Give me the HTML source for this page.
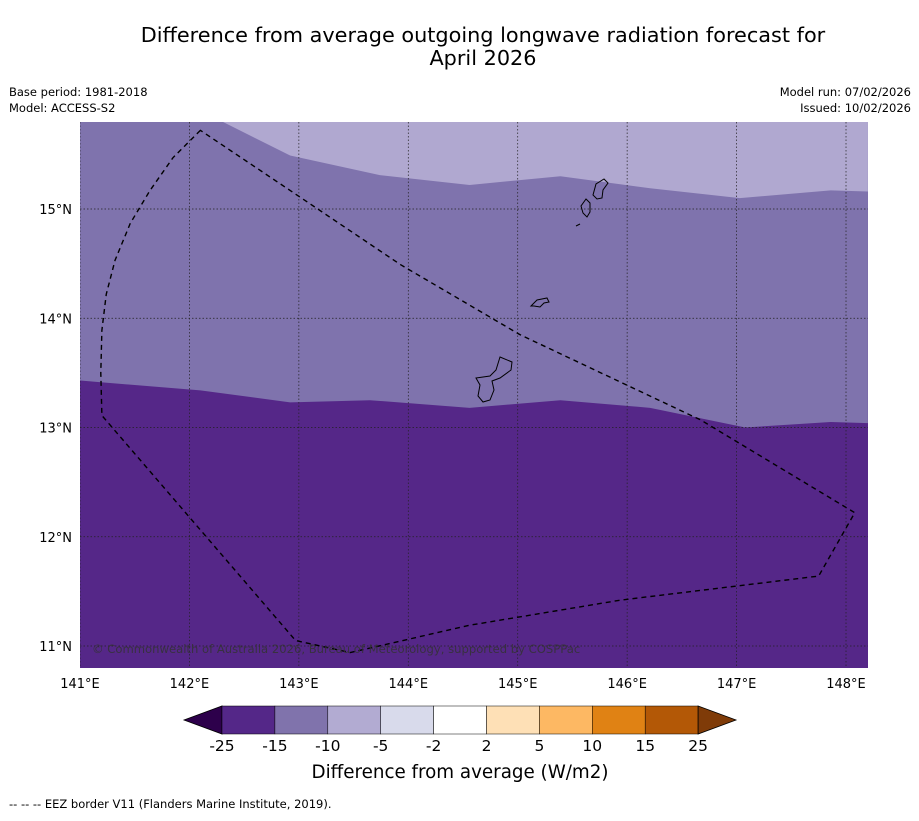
<!DOCTYPE html>
<html><head><meta charset="utf-8"><style>
body{margin:0;background:#fff;font-family:"Liberation Sans","DejaVu Sans",sans-serif;}
svg text{font-family:"DejaVu Sans","Liberation Sans",sans-serif;}
svg text.ls{font-family:"Liberation Sans","DejaVu Sans",sans-serif;}
</style></head><body>
<svg id="c" width="919" height="816" xmlns="http://www.w3.org/2000/svg">
<rect width="919" height="816" fill="#fff"/>
<text x="483" y="42" font-size="20.8" text-anchor="middle">Difference from average outgoing longwave radiation forecast for</text>
<text x="483" y="65" font-size="20.8" text-anchor="middle">April 2026</text>
<text x="9" y="96" font-size="11.5">Base period: 1981-2018</text>
<text x="9" y="112" font-size="11.5">Model: ACCESS-S2</text>
<text x="911" y="96" font-size="11.5" text-anchor="end">Model run: 07/02/2026</text>
<text x="911" y="112" font-size="11.5" text-anchor="end">Issued: 10/02/2026</text>
<defs><clipPath id="mc"><rect x="80" y="122" width="788" height="546"/></clipPath></defs>
<g id="map" clip-path="url(#mc)">
<rect x="80" y="122" width="788" height="546" fill="#552788"/>
<path id="midband" fill="#7f73ad"/>
<path id="lightband" fill="#b0a8d0"/>
<g id="grid"></g>
<g fill="none" stroke="#000" stroke-width="1">
<path d="M500,357 L512,362 L511,370 L500,378 L492,381 L494,390 L490,400 L483,402 L478,396 L480,385 L476,378 L490,376 L496,370 Z"/>
<path d="M531,306 L537,300 L547,298 L549,302 L544,303 L540,307 L534,306 Z"/>
<path d="M586,199 L590,203 L590,212 L587,217 L583,213 L581,206 Z"/>
<path d="M604,179 L608,183 L603,190 L602,198 L597,199 L593,195 L596,184 Z"/>
<path d="M576,226 L580,224"/>
</g>
<path id="eez" fill="none" stroke="#000" stroke-width="1.4" stroke-dasharray="5,4"/>
<text x="92" y="653" font-size="11.6" fill="#333" opacity="0.85">© Commonwealth of Australia 2026, Bureau of Meteorology, supported by COSPPac</text>
</g>
<g id="axes"></g>
<g id="cbar"></g>
<text x="460" y="778" font-size="18.3" text-anchor="middle">Difference from average (W/m2)</text>
<text x="9" y="808" font-size="11.5">--  --  -- EEZ border V11 (Flanders Marine Institute, 2019).</text>
</svg>
<script>
const lonTicks=[141,142,143,144,145,146,147,148];
const latTicks=[11,12,13,14,15];
const upperLon=[142.30,142.92,143.74,144.56,145.39,146.21,147.03,147.86,148.20];
const upperLat=[15.80,15.49,15.31,15.22,15.30,15.19,15.10,15.17,15.16];
const lowerLon=[141.0,142.10,142.92,143.65,144.56,145.39,146.21,147.08,147.86,148.20];
const lowerLat=[13.43,13.34,13.23,13.25,13.18,13.25,13.18,13.00,13.05,13.04];
const eezLon=[142.10,141.85,141.64,141.46,141.32,141.24,141.20,141.19,141.20,142.97,143.47,144.56,145.94,147.75,148.08,146.67,145.02,143.93,142.92];
const eezLat=[15.72,15.47,15.17,14.87,14.53,14.22,13.89,13.50,13.11,11.05,10.94,11.19,11.42,11.64,12.22,13.07,13.85,14.49,15.17];
const levels=["-25","-15","-10","-5","-2","2","5","10","15","25"];
const cbColors=["#542788","#8073ac","#b2abd2","#d8daeb","#ffffff","#fee0b6","#fdb863","#e08214","#b35806"];
const X=lon=>80+(lon-141)*109.43;
const Y=lat=>209+(15-lat)*109.25;
const NS="http://www.w3.org/2000/svg";
function mk(t,a,p){const e=document.createElementNS(NS,t);for(const k in a)e.setAttribute(k,a[k]);p.appendChild(e);return e;}
let d="M80,"+122;
for(let i=0;i<lowerLon.length;i++)d+=" L"+X(lowerLon[i])+","+Y(lowerLat[i]);
d+=" L868,122 Z";
document.getElementById('midband').setAttribute('d',d);
let d2="M"+X(upperLon[0])+","+Y(upperLat[0]);
for(let i=1;i<upperLon.length;i++)d2+=" L"+X(upperLon[i])+","+Y(upperLat[i]);
d2+=" L868,110 L"+X(upperLon[0])+",110 Z";
document.getElementById('lightband').setAttribute('d',d2);
let d3="";
for(let i=0;i<eezLon.length;i++)d3+=(i?" L":"M")+X(eezLon[i])+","+Y(eezLat[i]);
d3+=" Z";
document.getElementById('eez').setAttribute('d',d3);
const g=document.getElementById('grid');
lonTicks.forEach(v=>{const l=mk('line',{x1:X(v),x2:X(v),y1:122,y2:668,stroke:'#222','stroke-width':0.7,'stroke-dasharray':'1.5,2'},g);

});
latTicks.forEach(v=>{const l=mk('line',{x1:80,x2:868,y1:Y(v),y2:Y(v),stroke:'#222','stroke-width':0.7,'stroke-dasharray':'1.5,2'},g);

});
const ax=document.getElementById('axes');
lonTicks.forEach(v=>{const t=mk('text',{x:X(v),y:688,'font-size':13,'text-anchor':'middle'},ax);t.textContent=v+"°E";

});
latTicks.forEach(v=>{const t=mk('text',{x:72,y:Y(v)+5,'font-size':13,'text-anchor':'end'},ax);t.textContent=v+"°N";

});
const cb=document.getElementById('cbar');
const cx0=222,cw=52.9,cy=706,ch=28;
const lt=mk('polygon',{points:`184,720 ${cx0},${cy} ${cx0},${cy+ch}`,fill:'#2d004b',stroke:'#000','stroke-width':0.8},cb);


cbColors.forEach((c,i)=>{const r=mk('rect',{x:cx0+i*cw,y:cy,width:cw,height:ch,fill:c,stroke:'#000','stroke-width':0.5},cb);

});
const xe=cx0+cbColors.length*cw;
const rt=mk('polygon',{points:`${xe},${cy} 736,720 ${xe},${cy+ch}`,fill:'#7f3b08',stroke:'#000','stroke-width':0.8},cb);


levels.forEach((v,i)=>{const t=mk('text',{x:cx0+i*cw,y:751,'font-size':15.5,'text-anchor':'middle'},cb);t.textContent=v;

});
</script>
</body></html>
